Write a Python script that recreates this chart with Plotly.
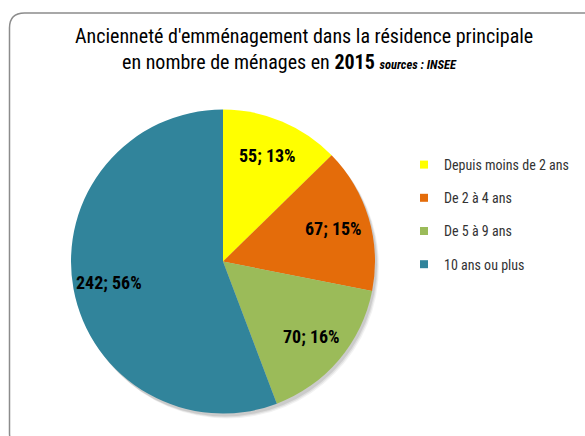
import math
import plotly.graph_objects as go

# Household counts by time since moving into the main residence (2015)
categories = ["Depuis moins de 2 ans", "De 2 à 4 ans", "De 5 à 9 ans", "10 ans ou plus"]
households = [55, 67, 70, 242]
colors = ["#FFFF00", "#E46C0A", "#9BBB59", "#31849B"]

W, H = 585, 436
NARROW = "Liberation Sans Narrow, Arial Narrow, Roboto Condensed, Liberation Sans, sans-serif"

# pie geometry in pixels
cx, cy, r = 223, 261.5, 152


def px_domain(x0, x1, y0, y1):
    return dict(x=[x0 / W, x1 / W], y=[1 - y1 / H, 1 - y0 / H])


fig = go.Figure()

# soft drop shadow under the pie
for dx, dy, a in [(4, 5, 0.05), (3, 4, 0.07), (2, 3, 0.09)]:
    fig.add_trace(go.Pie(
        values=[1], marker=dict(colors=[f"rgba(0,0,0,{a})"], line=dict(width=0)),
        textinfo="none", hoverinfo="skip", showlegend=False, sort=False,
        domain=px_domain(cx - r + dx, cx + r + dx, cy - r + dy, cy + r + dy),
    ))

fig.add_trace(go.Pie(
    labels=categories,
    values=households,
    sort=False,
    direction="clockwise",
    rotation=0,
    marker=dict(colors=colors, line=dict(width=0)),
    textinfo="none",
    showlegend=False,
    domain=px_domain(cx - r, cx + r, cy - r, cy + r),
))

# data labels "value; percent" placed along each slice's mid-angle
total = sum(households)
annotations = []
cum = 0
for v in households:
    mid = (cum + v / 2) / total * 2 * math.pi
    cum += v
    lx = cx + 0.76 * r * math.sin(mid)
    ly = cy - 0.76 * r * math.cos(mid)
    annotations.append(dict(
        text=f"<b>{v}; {round(100 * v / total)}%</b>",
        x=lx / W, y=1 - ly / H, xref="paper", yref="paper",
        xanchor="center", yanchor="middle", showarrow=False,
        font=dict(family=NARROW, size=18, color="black"),
    ))

# legend entries as square markers
for i, (name, col) in enumerate(zip(categories, colors)):
    fig.add_trace(go.Scatter(
        x=[None], y=[None], mode="markers", name=name,
        marker=dict(symbol="square", size=8, color=col),
        legendgroup=f"g{i}", showlegend=True,
    ))

# rounded frame around the chart
fx0, fy0, fx1, fy1, rr = 9.5, 13, 620, 448, 15
path = (f"M {fx1/W},{1-fy0/H} L {(fx0+rr)/W},{1-fy0/H} "
        f"Q {fx0/W},{1-fy0/H} {fx0/W},{1-(fy0+rr)/H} "
        f"L {fx0/W},{1-(fy1-rr)/H} Q {fx0/W},{1-fy1/H} {(fx0+rr)/W},{1-fy1/H} "
        f"L {fx1/W},{1-fy1/H} Z")

annotations += [
    dict(text="Ancienneté d'emménagement dans la résidence principale",
         x=304 / W, y=1 - 36 / H, xref="paper", yref="paper",
         xanchor="center", yanchor="middle", showarrow=False,
         font=dict(family=NARROW, size=20, color="black")),
    dict(text="en nombre de ménages en <b>2015</b> "
              "<span style='font-size:12.5px'><b><i>sources : INSEE</i></b></span>",
         x=289 / W, y=1 - 62 / H, xref="paper", yref="paper",
         xanchor="center", yanchor="middle", showarrow=False,
         font=dict(family=NARROW, size=20, color="black")),
]

fig.update_layout(
    width=W, height=H,
    margin=dict(l=0, r=0, t=0, b=0),
    paper_bgcolor="white", plot_bgcolor="white",
    xaxis=dict(visible=False), yaxis=dict(visible=False),
    shapes=[dict(type="path", path=path, xref="paper", yref="paper",
                 line=dict(color="#8C8C8C", width=1.5), fillcolor="rgba(0,0,0,0)",
                 layer="below")],
    annotations=annotations,
    legend=dict(
        x=404 / W, y=1 - 149 / H, xanchor="left", yanchor="top",
        font=dict(family=NARROW, size=14, color="#333333"),
        tracegroupgap=12, bgcolor="rgba(0,0,0,0)",
    ),
    showlegend=True,
)

fig.write_html("out.html")
